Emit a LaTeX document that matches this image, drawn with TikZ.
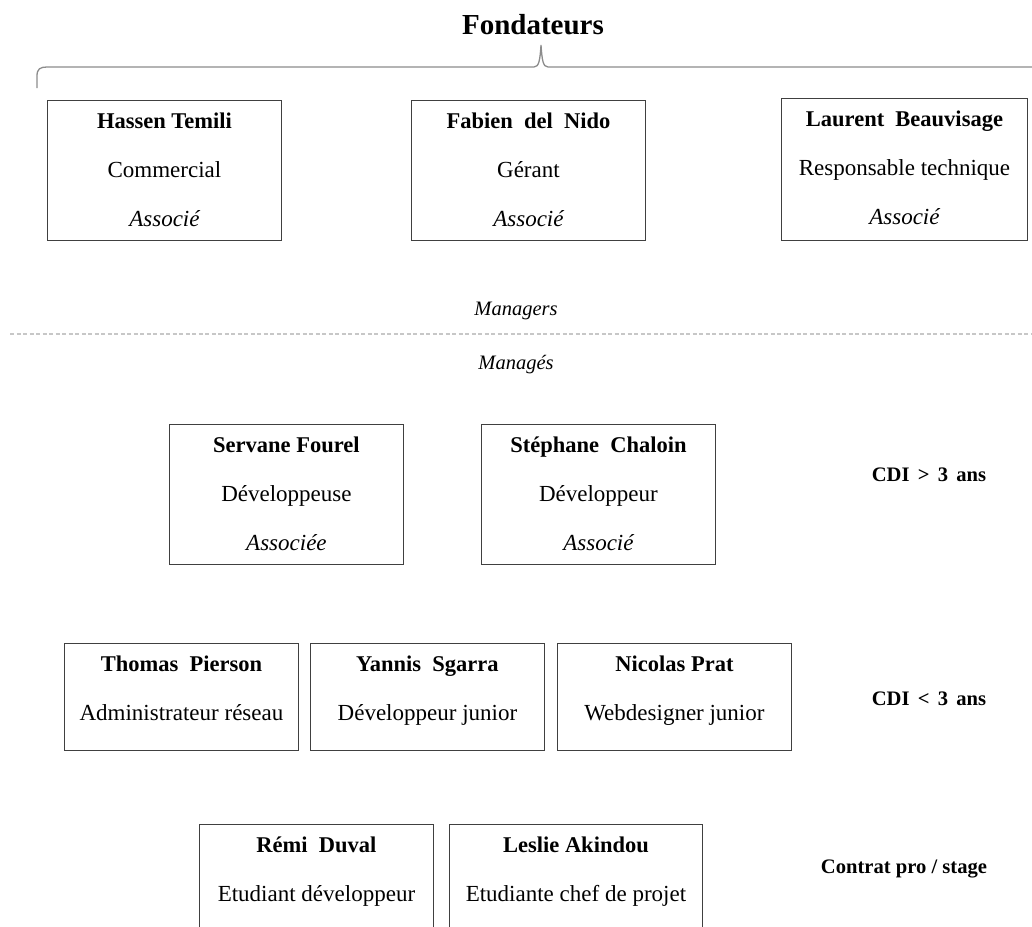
\documentclass[tikz,border=0pt]{standalone}
\usepackage{fontspec}
\setmainfont{Liberation Serif}
\usetikzlibrary{calc}
\newcommand\ws{\hspace{0.5em}}
\newcommand\wc{\hspace{0.4em}}
\begin{document}
\begin{tikzpicture}[x=1pt,y=-1pt,
  box/.style={draw=black!75, line width=0.9pt, minimum width=234pt, minimum height=140pt, anchor=north west, inner sep=0pt},
  boxs/.style={box, minimum height=107pt},
  nm/.style={anchor=base, inner sep=0pt, font=\fontsize{22.5}{26}\selectfont\bfseries},
  role/.style={anchor=base, inner sep=0pt, font=\fontsize{23}{26}\selectfont},
  stat/.style={anchor=base, inner sep=0pt, font=\fontsize{23}{26}\selectfont\itshape},
  sect/.style={anchor=base, inner sep=0pt, font=\fontsize{20.5}{22}\selectfont\itshape},
  cat/.style={anchor=base, inner sep=0pt, font=\fontsize{20.6}{22}\selectfont\bfseries},
  brace/.style={draw=black!45, line width=1.3pt},
  sep/.style={draw=black!22, line width=1.3pt, dash pattern=on 4pt off 2.5pt}]
\useasboundingbox (0,0) rectangle (1032,926);

% title and brace
\node[anchor=base, inner sep=0pt, font=\fontsize{29}{32}\selectfont\bfseries] (title) at (533,34) {Fondateurs};
\coordinate (btip) at (541,45);
\coordinate (bleft) at (37,88);
\coordinate (bright) at (1045,67);
\draw[brace] (bleft) -- (37,76) .. controls (37,69) and (40,67) .. (47,67) -- (534,67)
  .. controls (539,67) and (540,60) .. (btip) .. controls (542,60) and (543,67) .. (548,67) -- (bright);

% founders
\node[box] (hassen) at (47,100) {};
\node[nm] (hassen-n) at ($(hassen.north)+(0,28)$) {Hassen Temili};
\node[role] (hassen-r) at ($(hassen.north)+(0,77)$) {Commercial};
\node[stat] (hassen-s) at ($(hassen.north)+(0,126)$) {Associé};

\node[box] (fabien) at (411,100) {};
\node[nm] (fabien-n) at ($(fabien.north)+(0,28)$) {Fabien\ws del\ws Nido};
\node[role] (fabien-r) at ($(fabien.north)+(0,77)$) {Gérant};
\node[stat] (fabien-s) at ($(fabien.north)+(0,126)$) {Associé};

\node[box, minimum width=246pt, minimum height=142pt] (laurent) at (781,98) {};
\node[nm] (laurent-n) at ($(laurent.north)+(0,28)$) {Laurent\ws Beauvisage};
\node[role] (laurent-r) at ($(laurent.north)+(0,77)$) {Responsable technique};
\node[stat] (laurent-s) at ($(laurent.north)+(0,126)$) {Associé};

% separator
\node[sect] (managers) at (516,315) {Managers};
\coordinate (sepl) at (10,334);
\coordinate (sepr) at (1032,334);
\draw[sep] (sepl) -- (sepr);
\node[sect] (manages) at (516,369) {Managés};

% CDI > 3 ans
\node[box] (servane) at (169,424) {};
\node[nm] (servane-n) at ($(servane.north)+(0,28)$) {Servane Fourel};
\node[role] (servane-r) at ($(servane.north)+(0,77)$) {Développeuse};
\node[stat] (servane-s) at ($(servane.north)+(0,126)$) {Associée};

\node[box] (stephane) at (481,424) {};
\node[nm] (stephane-n) at ($(stephane.north)+(0,28)$) {Stéphane\ws Chaloin};
\node[role] (stephane-r) at ($(stephane.north)+(0,77)$) {Développeur};
\node[stat] (stephane-s) at ($(stephane.north)+(0,126)$) {Associé};

\node[cat] (cdi1) at (929,481) {CDI\wc>\wc3\wc ans};

% CDI < 3 ans
\node[boxs] (thomas) at (64,643) {};
\node[nm] (thomas-n) at ($(thomas.north)+(0,28)$) {Thomas\ws Pierson};
\node[role] (thomas-r) at ($(thomas.north)+(0,77)$) {Administrateur réseau};

\node[boxs] (yannis) at (310,643) {};
\node[nm] (yannis-n) at ($(yannis.north)+(0,28)$) {Yannis\ws Sgarra};
\node[role] (yannis-r) at ($(yannis.north)+(0,77)$) {Développeur junior};

\node[boxs] (nicolas) at (557,643) {};
\node[nm] (nicolas-n) at ($(nicolas.north)+(0,28)$) {Nicolas Prat};
\node[role] (nicolas-r) at ($(nicolas.north)+(0,77)$) {Webdesigner junior};

\node[cat] (cdi2) at (929,705) {CDI\wc<\wc3\wc ans};

% contrat pro / stage
\node[box] (remi) at (199,824) {};
\node[nm] (remi-n) at ($(remi.north)+(0,28)$) {Rémi\ws Duval};
\node[role] (remi-r) at ($(remi.north)+(0,77)$) {Etudiant développeur};

\node[box, minimum width=253pt] (leslie) at (449,824) {};
\node[nm] (leslie-n) at ($(leslie.north)+(0,28)$) {Leslie Akindou};
\node[role] (leslie-r) at ($(leslie.north)+(0,77)$) {Etudiante chef de projet};

\node[cat] (stage) at (904,873) {Contrat pro / stage};
\end{tikzpicture}
\end{document}
